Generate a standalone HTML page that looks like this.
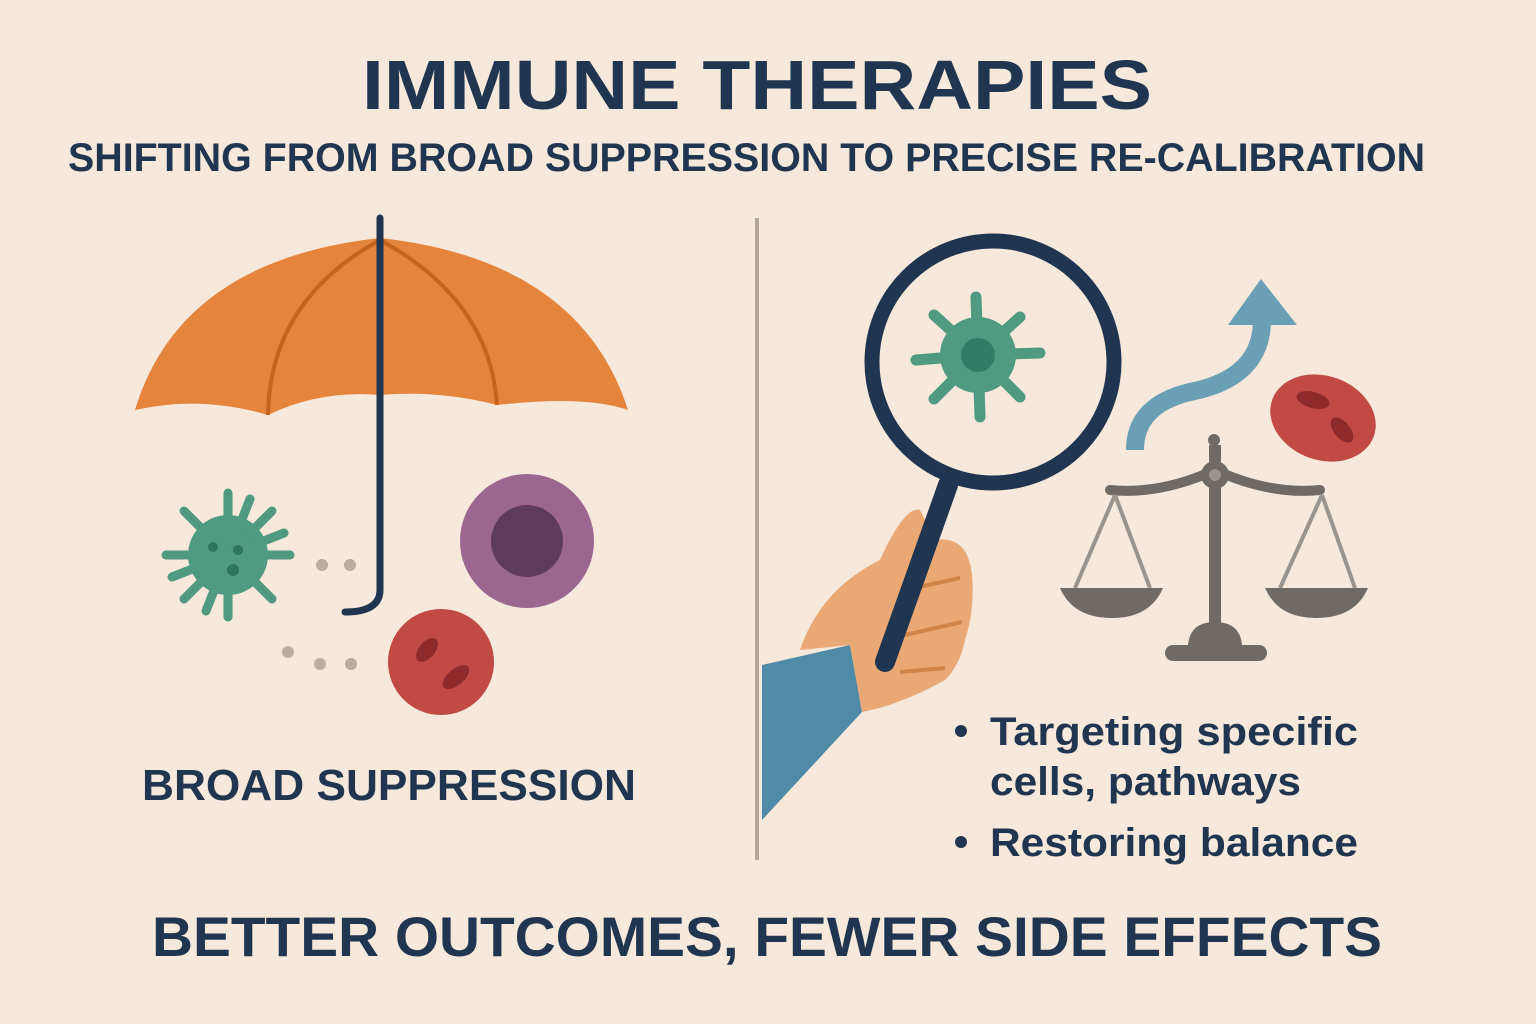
<!DOCTYPE html>
<html><head><meta charset="utf-8"><style>
html,body{margin:0;padding:0;background:#f6e8da}
svg{display:block}
text{font-family:"Liberation Sans","DejaVu Sans",sans-serif;fill:#1f3550;font-weight:bold}
</style></head><body>
<svg width="1536" height="1024" viewBox="0 0 1536 1024" xmlns="http://www.w3.org/2000/svg">
<rect width="1536" height="1024" fill="#f6e8da"/>
<text x="362" y="109" font-size="70" textLength="790" lengthAdjust="spacingAndGlyphs">IMMUNE THERAPIES</text>
<text x="68" y="171" font-size="40" font-weight="bold" textLength="1357" lengthAdjust="spacingAndGlyphs" style="font-weight:600">SHIFTING FROM BROAD SUPPRESSION TO PRECISE RE-CALIBRATION</text>

<!-- umbrella -->
<path d="M135,410 Q180,260 380,238 Q580,260 628,410 Q585,395 497,405 Q440,390 380,395 Q320,390 268,415 Q200,395 135,410 Z" fill="#e5843c"/>
<path d="M268,415 Q270,300 380,240 M497,405 Q490,300 380,240" stroke="#c4651f" stroke-width="4" fill="none"/>
<path d="M380,218 L380,590 Q380,612 345,612" stroke="#1f3550" stroke-width="7" fill="none" stroke-linecap="round"/>

<!-- left virus -->
<g transform="translate(228,555)" fill="#4f9a80">
<circle r="40"/>
<g stroke="#4f9a80" stroke-width="9" stroke-linecap="round">
<line x1="0" y1="0" x2="0" y2="-62"/><line x1="0" y1="0" x2="0" y2="62"/><line x1="0" y1="0" x2="62" y2="0"/><line x1="0" y1="0" x2="-62" y2="0"/>
<line x1="0" y1="0" x2="44" y2="-44"/><line x1="0" y1="0" x2="-44" y2="44"/><line x1="0" y1="0" x2="44" y2="44"/><line x1="0" y1="0" x2="-44" y2="-44"/>
<line x1="0" y1="0" x2="22" y2="-56"/><line x1="0" y1="0" x2="-56" y2="22"/><line x1="0" y1="0" x2="56" y2="-22"/><line x1="0" y1="0" x2="-22" y2="56"/>
</g>
<circle cx="-15" cy="-8" r="5" fill="#2f7560"/><circle cx="10" cy="-5" r="5" fill="#2f7560"/><circle cx="5" cy="15" r="6" fill="#2f7560"/>
</g>
<g fill="#b8ad9e"><circle cx="322" cy="565" r="6"/><circle cx="350" cy="565" r="6"/><circle cx="288" cy="652" r="6"/><circle cx="320" cy="664" r="6"/><circle cx="351" cy="664" r="6"/></g>
<circle cx="527" cy="541" r="67" fill="#9b6690"/><circle cx="527" cy="541" r="36" fill="#5e3a5c"/>
<circle cx="441" cy="662" r="53" fill="#c24a45"/>
<ellipse cx="427" cy="650" rx="8" ry="14" transform="rotate(40 427 650)" fill="#8e2a2c"/>
<ellipse cx="456" cy="677" rx="8" ry="16" transform="rotate(50 456 677)" fill="#8e2a2c"/>
<text x="142" y="800" font-size="44" textLength="494" lengthAdjust="spacingAndGlyphs">BROAD SUPPRESSION</text>

<!-- divider -->
<line x1="757" y1="218" x2="757" y2="860" stroke="#b0a598" stroke-width="4"/>

<!-- sleeve and hand -->
<path d="M762,665 L850,645 L862,712 L762,820 Z" fill="#4f8aa6"/>
<path d="M800,650 Q820,590 880,560 Q905,505 920,510 L935,540 Q968,535 972,575 Q975,610 965,640 Q960,665 945,680 Q900,705 862,712 L850,645 Z" fill="#e9a874"/>
<path d="M905,590 L960,578 M905,635 L962,622 M900,672 L945,668" stroke="#cf8448" stroke-width="4" fill="none"/>
<!-- magnifier -->
<line x1="948" y1="485" x2="885" y2="662" stroke="#1f3550" stroke-width="20" stroke-linecap="round"/>
<circle cx="993" cy="362" r="121" fill="#f6e8da" stroke="#1f3550" stroke-width="15"/>
<g transform="translate(978,355)" fill="#4f9a80">
<circle r="38"/>
<g stroke="#4f9a80" stroke-width="11" stroke-linecap="round">
<line x1="0" y1="0" x2="-2" y2="-58"/><line x1="0" y1="0" x2="42" y2="-38"/><line x1="0" y1="0" x2="62" y2="-2"/><line x1="0" y1="0" x2="42" y2="42"/>
<line x1="0" y1="0" x2="2" y2="62"/><line x1="0" y1="0" x2="-44" y2="44"/><line x1="0" y1="0" x2="-62" y2="5"/><line x1="0" y1="0" x2="-44" y2="-40"/>
</g>
<circle r="17" fill="#2f7d66"/>
</g>

<!-- arrow -->
<path d="M1135,450 Q1135,405 1190,392 Q1262,378 1262,320" stroke="#6a9fb5" stroke-width="18" fill="none"/>
<polygon points="1228,325 1297,325 1261,279" fill="#6a9fb5"/>
<!-- red cell -->
<ellipse cx="1323" cy="418" rx="54" ry="42" transform="rotate(20 1323 418)" fill="#c24a45"/>
<ellipse cx="1313" cy="400" rx="17" ry="8" transform="rotate(15 1313 400)" fill="#8e2a2c"/>
<ellipse cx="1342" cy="430" rx="8" ry="15" transform="rotate(-40 1342 430)" fill="#8e2a2c"/>

<!-- scale -->
<g fill="#6f6a66" stroke="#6f6a66">
<path d="M1110,490 Q1160,495 1215,470 Q1270,495 1320,490" stroke-width="10" fill="none" stroke-linecap="round"/>
<line x1="1215" y1="445" x2="1215" y2="640" stroke-width="12"/>
<circle cx="1214" cy="440" r="6" stroke="none"/>
<circle cx="1215" cy="475" r="14" stroke="none"/>
<circle cx="1215" cy="475" r="6" fill="#9a948e" stroke="none"/>
<path d="M1188,645 Q1190,622 1215,622 Q1240,622 1242,645 Z" stroke="none"/>
<rect x="1165" y="645" width="102" height="16" rx="8" stroke="none"/>
<g stroke="#9a948e" stroke-width="4"><line x1="1115" y1="495" x2="1075" y2="588"/><line x1="1115" y1="495" x2="1150" y2="588"/><line x1="1322" y1="495" x2="1280" y2="588"/><line x1="1322" y1="495" x2="1355" y2="588"/></g>
<path d="M1060,588 L1163,588 Q1150,618 1112,618 Q1073,618 1060,588 Z" stroke="none"/>
<path d="M1265,588 L1368,588 Q1355,618 1316,618 Q1278,618 1265,588 Z" stroke="none"/>
</g>

<!-- bullets -->
<circle cx="961" cy="731" r="6" fill="#1f3550"/>
<text x="990" y="745" font-size="40" textLength="368" lengthAdjust="spacingAndGlyphs" style="font-weight:600">Targeting specific</text>
<text x="990" y="795" font-size="40" textLength="311" lengthAdjust="spacingAndGlyphs" style="font-weight:600">cells, pathways</text>
<circle cx="961" cy="842" r="6" fill="#1f3550"/>
<text x="990" y="856" font-size="40" textLength="368" lengthAdjust="spacingAndGlyphs" style="font-weight:600">Restoring balance</text>

<text x="152" y="956" font-size="56" textLength="1230" lengthAdjust="spacingAndGlyphs">BETTER OUTCOMES, FEWER SIDE EFFECTS</text>
</svg>
</body></html>
